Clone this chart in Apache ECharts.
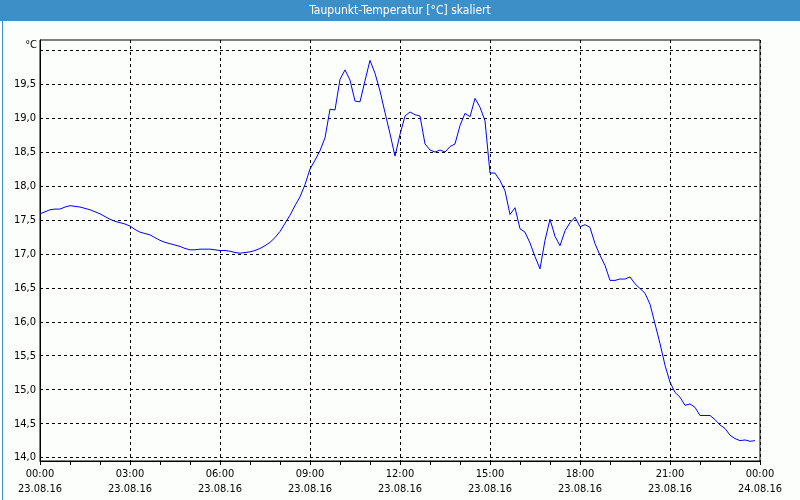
<!DOCTYPE html>
<html>
<head>
<meta charset="utf-8">
<script src="https://cdn.jsdelivr.net/npm/echarts@6/dist/echarts.min.js"></script>
<style>html,body{margin:0;padding:0;background:#fcfefc}#c{width:800px;height:500px}</style>
</head>
<body>
<div id="c"></div>
<script>
// ---- data ----
const titleText = 'Taupunkt-Temperatur [°C] skaliert';
const unitText = '°C';
const startMinute = 0;      // 23.08.16 00:00
const stepMinutes = 10;     // sampling interval
const dewPoint = [
  17.59,17.62,17.65,17.66,17.66,17.69,17.71,17.70,17.69,17.67,17.65,17.62,
  17.59,17.55,17.51,17.48,17.46,17.44,17.41,17.36,17.32,17.30,17.28,17.24,
  17.20,17.17,17.15,17.13,17.11,17.08,17.06,17.06,17.07,17.07,17.07,17.06,
  17.05,17.05,17.04,17.02,17.01,17.02,17.03,17.05,17.08,17.12,17.17,17.24,
  17.33,17.45,17.57,17.71,17.84,18.02,18.25,18.38,18.52,18.71,19.13,19.12,
  19.57,19.71,19.56,19.25,19.24,19.55,19.85,19.66,19.40,19.08,18.77,18.44,
  18.76,19.03,19.09,19.05,19.03,18.62,18.53,18.50,18.53,18.50,18.58,18.62,
  18.89,19.07,19.02,19.29,19.16,18.96,18.19,18.19,18.08,17.93,17.58,17.68,
  17.37,17.32,17.16,16.96,16.78,17.20,17.51,17.26,17.12,17.34,17.46,17.54,
  17.40,17.43,17.39,17.15,16.98,16.83,16.61,16.61,16.63,16.63,16.66,16.56,
  16.49,16.42,16.26,15.97,15.68,15.36,15.11,14.96,14.89,14.77,14.79,14.74,
  14.62,14.62,14.62,14.56,14.48,14.43,14.33,14.28,14.25,14.26,14.24,14.25
];
const xTickMinutes = [0,180,360,540,720,900,1080,1260,1440];
const xTickLabels = [
  '00:00\n23.08.16','03:00\n23.08.16','06:00\n23.08.16','09:00\n23.08.16',
  '12:00\n23.08.16','15:00\n23.08.16','18:00\n23.08.16','21:00\n23.08.16',
  '00:00\n24.08.16'
];
const yGridTicks = [14.0,14.5,15.0,15.5,16.0,16.5,17.0,17.5,18.0,18.5,19.0,19.5,20.0];
const yLabelTicks = [14.0,14.5,15.0,15.5,16.0,16.5,17.0,17.5,18.0,18.5,19.0,19.5];
const yMin = 13.95, yMax = 20.15;

// ---- chart ----
const seriesData = dewPoint.map((v, i) => [startMinute + i * stepMinutes, v]);
const FONT = "'Liberation Sans Narrow','DejaVu Sans Condensed','Liberation Sans',sans-serif";
const chart = echarts.init(document.getElementById('c'), null, {renderer: 'canvas'});
chart.setOption({
  animation: false,
  backgroundColor: '#fcfefc',
  graphic: [
    {type: 'rect', left: 0, top: 0, shape: {width: 800, height: 21}, style: {fill: '#3d8fc8'}, z: -1},
    {type: 'rect', left: 0, top: 0, shape: {x: 0.5, y: 0.5, width: 799, height: 499}, style: {fill: null, stroke: '#3d8fc8', lineWidth: 1}, z: -1},
    {type: 'text', x: 400, y: 11, style: {text: titleText, fill: '#ffffff', font: "12px " + FONT, align: 'center', verticalAlign: 'middle'}},
    {type: 'text', x: 37, y: 45, style: {text: unitText, fill: '#000', font: "11px " + FONT, align: 'right', verticalAlign: 'middle'}}
  ],
  grid: {left: 40, right: 40, top: 40, bottom: 39, show: true, borderColor: '#000', borderWidth: 1, backgroundColor: 'transparent'},
  xAxis: {
    type: 'value', min: 0, max: 1440, interval: 180,
    axisLine: {show: true, lineStyle: {color: '#000', width: 1}},
    axisTick: {show: true, length: 4, lineStyle: {color: '#000'}},
    minorTick: {show: true, splitNumber: 3, length: 4, lineStyle: {color: '#000'}},
    splitLine: {show: true, lineStyle: {color: '#000', type: [3, 3], width: 1}},
    axisLabel: {
      color: '#000', fontSize: 11, fontFamily: FONT, lineHeight: 15, margin: 6,
      formatter: v => { const i = xTickMinutes.indexOf(v); return i >= 0 ? xTickLabels[i] : ''; }
    }
  },
  yAxis: {
    type: 'value', min: yMin, max: yMax,
    axisLine: {show: true, lineStyle: {color: '#000', width: 1}},
    axisTick: {show: false, customValues: yGridTicks},
    splitLine: {show: true, lineStyle: {color: '#000', type: [3, 3], width: 1}},
    axisLabel: {
      customValues: yLabelTicks, color: '#000', fontSize: 11, fontFamily: FONT, margin: 4,
      formatter: v => v.toFixed(1).replace('.', ',')
    }
  },
  series: [{
    type: 'line', data: seriesData, showSymbol: false, symbol: 'none',
    lineStyle: {color: '#0000ff', width: 1}, clip: true
  }]
});
</script>
</body>
</html>
